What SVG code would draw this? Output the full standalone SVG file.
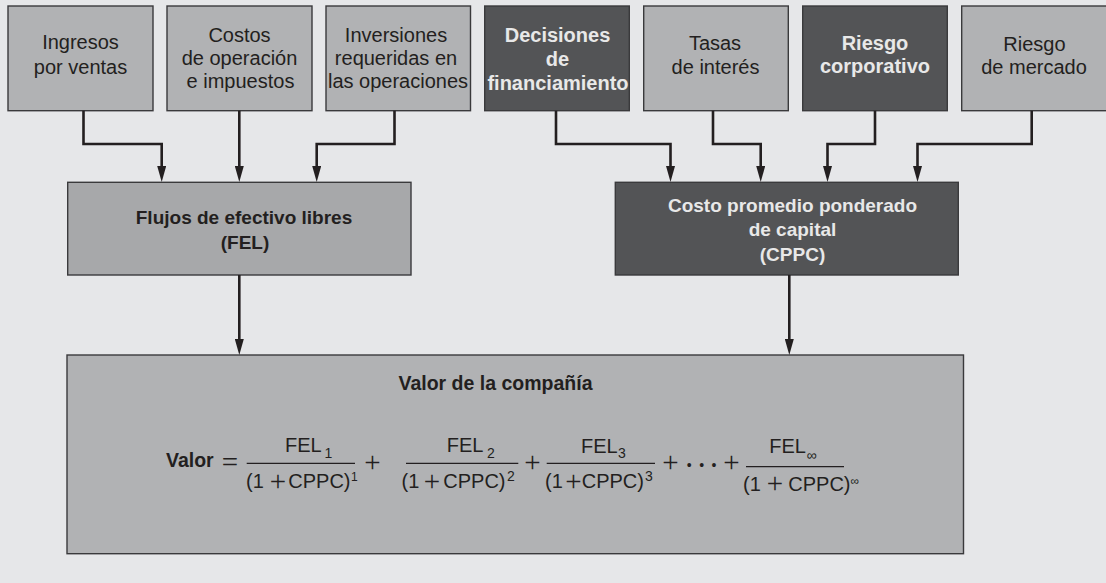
<svg xmlns="http://www.w3.org/2000/svg" width="1106" height="583" viewBox="0 0 1106 583">
<style>
.bg{fill:#e6e7e9}
.lt{fill:#b1b2b4;stroke:#3a3a3c;stroke-width:1.4}
.mid{fill:#a7a8aa;stroke:#3a3a3c;stroke-width:1.4}
.dk{fill:#535456;stroke:#3a3a3c;stroke-width:1.4}
text{font-family:"Liberation Sans",Arial,sans-serif}
.t{font-size:20px;fill:#231f20;text-anchor:middle}
.tb{font-size:20px;font-weight:bold;fill:#e8e8e8;text-anchor:middle}
.bb{font-size:19px;font-weight:bold;fill:#231f20;text-anchor:middle}
.bw{font-size:19px;font-weight:bold;fill:#e8e8e8;text-anchor:middle}
.f{font-size:20px;fill:#231f20}
.sb{font-size:14px;fill:#231f20}
.op{font-family:"Liberation Serif",serif;font-size:29px;fill:#231f20;text-anchor:middle}
.bar{stroke:#231f20;stroke-width:1.3}
.c{fill:none;stroke:#231f20;stroke-width:2.6;marker-end:url(#ah)}
</style>
<defs>
<marker id="ah" markerUnits="userSpaceOnUse" viewBox="0 0 16 9" markerWidth="16" markerHeight="9" refX="8" refY="4.5" orient="auto">
<path d="M0,0 L16,4.5 L0,9 Z" fill="#231f20"/>
</marker>
</defs>
<rect class="bg" x="0" y="0" width="1106" height="583"/>

<g id="n-ingresos">
<rect class="lt" x="8" y="6" width="145" height="104.7"/>
<text class="t" x="80.5" y="49">Ingresos</text>
<text class="t" x="80.5" y="74">por ventas</text>
</g>
<g id="n-costos">
<rect class="lt" x="167" y="6" width="145" height="104.7"/>
<text class="t" x="239.5" y="41.7">Costos</text>
<text class="t" x="239.5" y="65">de operación</text>
<text class="t" x="240.5" y="88">e impuestos</text>
</g>
<g id="n-inversiones">
<rect class="lt" x="326" y="6" width="144.5" height="104.7"/>
<text class="t" x="396" y="41.7">Inversiones</text>
<text class="t" x="396" y="65">requeridas en</text>
<text class="t" x="398" y="88">las operaciones</text>
</g>
<g id="n-decisiones">
<rect class="dk" x="484.7" y="6" width="144.6" height="104.7"/>
<text class="tb" x="557.5" y="42">Decisiones</text>
<text class="tb" x="557.5" y="66">de</text>
<text class="tb" x="558" y="90">financiamiento</text>
</g>
<g id="n-tasas">
<rect class="lt" x="643.7" y="6" width="144.6" height="104.7"/>
<text class="t" x="715" y="49.5">Tasas</text>
<text class="t" x="715.5" y="74">de interés</text>
</g>
<g id="n-riesgo-corp">
<rect class="dk" x="802.7" y="6" width="144.6" height="104.7"/>
<text class="tb" x="875" y="50">Riesgo</text>
<text class="tb" x="875" y="73">corporativo</text>
</g>
<g id="n-riesgo-merc">
<rect class="lt" x="961.7" y="6" width="146" height="104.7"/>
<text class="t" x="1034.5" y="50.5">Riesgo</text>
<text class="t" x="1034" y="73.5">de mercado</text>
</g>

<g id="n-fel">
<rect class="mid" x="67.7" y="182.3" width="343.3" height="92.7"/>
<text class="bb" x="244" y="224">Flujos de efectivo libres</text>
<text class="bb" x="245" y="249">(FEL)</text>
</g>
<g id="n-cppc">
<rect class="dk" x="615.3" y="182.3" width="343" height="92.7"/>
<text class="bw" x="792.5" y="212">Costo promedio ponderado</text>
<text class="bw" x="792.5" y="236">de capital</text>
<text class="bw" x="792.5" y="260.5">(CPPC)</text>
</g>

<g id="n-valor">
<rect class="lt" x="67" y="355" width="896.5" height="198.7"/>
<text class="bb" x="495.5" y="390" style="font-size:19.5px">Valor de la compañía</text>
<text x="166" y="467" style="font-size:19.5px;font-weight:bold;fill:#231f20">Valor</text>
<text class="op" x="230" y="471.5">=</text>
<!-- fraction 1 -->
<text class="f" x="285" y="452">FEL</text>
<text class="sb" x="324.5" y="457.5">1</text>
<line class="bar" x1="246.7" y1="463.3" x2="355" y2="463.3"/>
<text class="f" x="246" y="488">(1</text>
<text class="op" x="278" y="490.5">+</text>
<text class="f" x="288.3" y="488">CPPC)</text>
<text class="sb" x="351" y="481" style="font-size:12px">1</text>
<text class="op" x="372.5" y="471.5">+</text>
<!-- fraction 2 -->
<text class="f" x="446.7" y="452">FEL</text>
<text class="sb" x="487" y="457.5">2</text>
<line class="bar" x1="406" y1="463.3" x2="518.3" y2="463.3"/>
<text class="f" x="401.5" y="488">(1</text>
<text class="op" x="432" y="490.5">+</text>
<text class="f" x="443.3" y="488">CPPC)</text>
<text class="sb" x="507" y="481">2</text>
<text class="op" x="532.5" y="471.5">+</text>
<!-- fraction 3 -->
<text class="f" x="581" y="452.5">FEL</text>
<text class="sb" x="618" y="457.5">3</text>
<line class="bar" x1="546.7" y1="463.3" x2="655" y2="463.3"/>
<text class="f" x="545" y="488">(1</text>
<text class="op" x="573.5" y="490.5">+</text>
<text class="f" x="581.7" y="488">CPPC)</text>
<text class="sb" x="645" y="481">3</text>
<text class="op" x="670.5" y="471.5">+</text>
<text x="689.3 701.7 714" y="469.5" style="font-size:14px;fill:#231f20;text-anchor:middle">•••</text>
<text class="op" x="731.5" y="471.5">+</text>
<!-- fraction 4 -->
<text class="f" x="769.3" y="453.3">FEL</text>
<text class="sb" x="806.5" y="459.5">∞</text>
<line class="bar" x1="746" y1="466.7" x2="844" y2="466.7"/>
<text class="f" x="743" y="490.7">(1</text>
<text class="op" x="775" y="493.2">+</text>
<text class="f" x="788.3" y="490.7">CPPC)</text>
<text class="sb" x="850.5" y="485" style="font-size:12px">∞</text>
</g>

<g id="connectors">
<path class="c" d="M83.5 110.7 V144 H161.7 V174"/>
<path class="c" d="M239.3 110.7 V174"/>
<path class="c" d="M394.5 110.7 V144 H316.7 V174"/>
<path class="c" d="M556 110.7 V144 H670.5 V174"/>
<path class="c" d="M713 110.7 V144 H760.7 V174"/>
<path class="c" d="M875 110.7 V144 H827.5 V174"/>
<path class="c" d="M1031.7 110.7 V144 H917.5 V174"/>
<path class="c" d="M239.3 275 V347"/>
<path class="c" d="M789.3 275 V347"/>
</g>
</svg>
